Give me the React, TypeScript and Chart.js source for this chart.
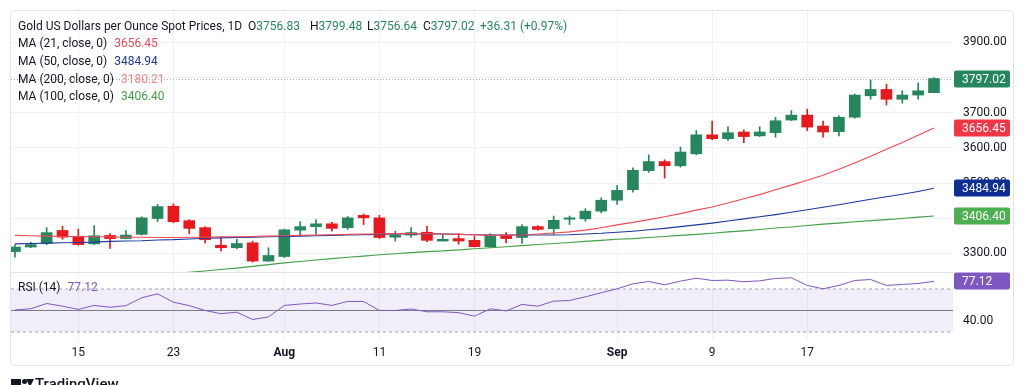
import React, { useEffect, useRef } from "react";
import { Chart, registerables } from "chart.js";
Chart.register(...registerables);

// ---------- data ----------
const dates = [
  "Jul 9", "Jul 10", "Jul 11", "Jul 14", "Jul 15", "Jul 16", "Jul 17", "Jul 18", "Jul 21", "Jul 22",
  "Jul 23", "Jul 24", "Jul 25", "Jul 28", "Jul 29", "Jul 30", "Jul 31", "Aug 1", "Aug 4", "Aug 5",
  "Aug 6", "Aug 7", "Aug 8", "Aug 11", "Aug 12", "Aug 13", "Aug 14", "Aug 15", "Aug 18", "Aug 19",
  "Aug 20", "Aug 21", "Aug 22", "Aug 25", "Aug 26", "Aug 27", "Aug 28", "Aug 29", "Sep 1", "Sep 2",
  "Sep 3", "Sep 4", "Sep 5", "Sep 8", "Sep 9", "Sep 10", "Sep 11", "Sep 12", "Sep 15", "Sep 16",
  "Sep 17", "Sep 18", "Sep 19", "Sep 22", "Sep 23", "Sep 24", "Sep 25", "Sep 26", "Sep 29",
];

const opens = [
  3305, 3318, 3328, 3365, 3347, 3327, 3351, 3342, 3354, 3399,
  3434, 3393, 3373, 3323, 3316, 3330, 3278, 3291, 3366, 3376,
  3384, 3373, 3408, 3401, 3346, 3352, 3360, 3335, 3342, 3337,
  3319, 3352, 3345, 3376, 3370, 3397, 3398, 3420, 3451, 3481,
  3535, 3561, 3549, 3583, 3637, 3626, 3645, 3634, 3643, 3679,
  3693, 3662, 3646, 3687, 3748, 3766, 3738, 3750, 3756.83,
];
const highs = [
  3325, 3332, 3373, 3377, 3369, 3379, 3356, 3365, 3404, 3439,
  3441, 3396, 3376, 3346, 3340, 3335, 3316, 3369, 3390, 3396,
  3388, 3405, 3412, 3408, 3363, 3373, 3377, 3352, 3356, 3349,
  3356, 3359, 3382, 3379, 3406, 3406, 3427, 3458, 3493, 3543,
  3580, 3566, 3602, 3649, 3676, 3660, 3651, 3660, 3687, 3706,
  3710, 3676, 3691, 3753, 3793, 3781, 3762, 3785, 3799.48,
];
const lows = [
  3289, 3316, 3325, 3340, 3323, 3325, 3314, 3341, 3352, 3390,
  3387, 3356, 3330, 3307, 3313, 3275, 3277, 3288, 3349, 3354,
  3363, 3368, 3382, 3342, 3335, 3345, 3333, 3335, 3326, 3318,
  3316, 3330, 3328, 3366, 3354, 3382, 3391, 3415, 3439, 3474,
  3530, 3514, 3545, 3580, 3623, 3621, 3615, 3632, 3630, 3677,
  3649, 3630, 3634, 3684, 3738, 3722, 3727, 3738, 3756.64,
];
const closes = [
  3318, 3325, 3359, 3346, 3325, 3350, 3342, 3352, 3401, 3433,
  3390, 3371, 3339, 3316, 3328, 3278, 3294, 3367, 3376, 3384,
  3371, 3401, 3401, 3345, 3352, 3359, 3337, 3340, 3335, 3319,
  3352, 3342, 3376, 3368, 3394, 3401, 3420, 3451, 3479, 3536,
  3561, 3549, 3588, 3637, 3626, 3643, 3632, 3645, 3677, 3693,
  3659, 3645, 3687, 3750, 3766, 3738, 3750, 3762, 3797.02,
];

const ma21 = [
  3351, 3350, 3349, 3348, 3348, 3347, 3347, 3346, 3346, 3345,
  3345, 3346, 3346, 3347, 3347, 3348, 3349, 3350, 3351, 3352,
  3353, 3354, 3355, 3355, 3356, 3356, 3356, 3355, 3354, 3353,
  3351, 3351, 3352, 3355, 3358, 3361, 3366, 3373, 3381, 3388,
  3396, 3404, 3413, 3423, 3432, 3443, 3455, 3467, 3481, 3494,
  3508, 3522, 3539, 3557, 3576, 3596, 3615, 3636, 3656.45,
];
const ma50 = [
  3327, 3328, 3329, 3330, 3331, 3332, 3334, 3335, 3336, 3338,
  3339, 3341, 3343, 3344, 3345, 3346, 3347, 3348, 3349, 3350,
  3351, 3352, 3353, 3354, 3355, 3355, 3356, 3355, 3354, 3353,
  3352, 3352, 3352, 3352, 3352, 3353, 3355, 3357, 3360, 3363,
  3367, 3371, 3376, 3381, 3386, 3392, 3398, 3404, 3410, 3417,
  3424, 3431, 3438, 3446, 3454, 3461, 3468, 3476, 3484.94,
];
const ma100 = [
  3204, 3208, 3212, 3216, 3220, 3224, 3228, 3232, 3236, 3240,
  3243, 3246, 3250, 3254, 3258, 3263, 3268, 3273, 3277, 3281,
  3285, 3289, 3292, 3296, 3299, 3302, 3305, 3307, 3310, 3313,
  3316, 3319, 3322, 3325, 3328, 3331, 3334, 3337, 3340, 3342,
  3345, 3348, 3351, 3354, 3357, 3361, 3364, 3368, 3372, 3375,
  3379, 3383, 3386, 3390, 3393, 3396, 3399, 3403, 3406.4,
];
const ma200Last = 3180.21;

const rsi = [
  50.5, 51.6, 56.5, 54, 51, 54.7, 53, 54.5, 61.8, 65.5,
  57.7, 54.5, 50, 47, 48.4, 41.6, 44, 54.7, 56, 57,
  54.7, 58.4, 58.4, 50, 50, 51.4, 48.8, 48.8, 48, 44.7,
  51.6, 49.6, 55.6, 54, 58.7, 59.3, 62.7, 66.5, 70.2, 74.8,
  77, 73.9, 77.3, 80, 77.9, 78.2, 76.7, 77.6, 79.8, 80.4,
  73.3, 70.2, 73.3, 77.9, 78.8, 73.3, 74.2, 75.1, 77.12,
];

const xTickIndex = [4, 10, 17, 23, 29, 38, 44, 50];
const xTickLabels = ["15", "23", "Aug", "11", "19", "Sep", "9", "17"];
const priceTicks = [3300, 3400, 3500, 3600, 3700, 3800, 3900];
const rsiTicks = [40];
const rsiUpper = 70;
const rsiMiddle = 50;
const rsiLower = 30;

// ---------- styling ----------
const FONT = "Roboto, 'Noto Sans', sans-serif";
const TEXT = "#131722";
const UP = "#26875f";
const DOWN = "#e8191c";
const C_MA21 = "#ef4a55";
const C_MA50 = "#1c3a9c";
const C_MA100 = "#43a047";
const C_MA200 = "#f4838a";
const C_RSI = "#7e57c2";
const GRID = "#f0f2f5";
const X_MIN = -0.25;
const X_MAX = 59.2;
const AXIS_W = 60;

function drawTags(chart: any, tags: { value: number; bg: string }[]) {
  const { ctx, chartArea, scales } = chart;
  const y = scales.y;
  ctx.save();
  ctx.font = `12px ${FONT}`;
  ctx.textBaseline = "middle";
  ctx.textAlign = "left";
  for (const t of tags) {
    const py = Math.round(y.getPixelForValue(t.value));
    const x = chartArea.right + 1;
    const w = 56;
    const h = 17;
    ctx.fillStyle = t.bg;
    ctx.beginPath();
    (ctx as any).roundRect(x, py - h / 2, w, h, 2);
    ctx.fill();
    ctx.fillStyle = "#ffffff";
    ctx.fillText(t.value.toFixed(2), x + 8, py + 0.5);
  }
  ctx.restore();
}

function noPad(s: any) {
  s.paddingTop = 0;
  s.paddingBottom = 0;
  s.paddingLeft = 0;
  s.paddingRight = 0;
}

function xAxis(showTicks: boolean) {
  return {
    type: "linear",
    min: X_MIN,
    max: X_MAX,
    offset: false,
    afterBuildTicks: (s: any) => {
      s.ticks = xTickIndex.map((v) => ({ value: v }));
    },
    afterFit: (s: any) => {
      s.height = showTicks ? 24 : 0;
      noPad(s);
    },
    grid: { color: GRID, drawTicks: false, offset: false },
    border: { display: false },
    ticks: {
      display: showTicks,
      padding: 5,
      color: TEXT,
      maxRotation: 0,
      autoSkip: false,
      font: (c: any) => ({
        family: FONT,
        size: 12,
        weight: xTickLabels[c.index] && xTickLabels[c.index].length === 3 ? "bold" : "normal",
      }),
      callback: (_v: any, i: number) => xTickLabels[i],
    },
  };
}

export default function App() {
  const mainRef = useRef<HTMLCanvasElement>(null);
  const rsiRef = useRef<HTMLCanvasElement>(null);

  useEffect(() => {
    const colors = closes.map((c, i) => (c >= opens[i] ? UP : DOWN));
    const last = closes.length - 1;

    const main = new Chart(mainRef.current as HTMLCanvasElement, {
      type: "bar",
      data: {
        datasets: [
          {
            type: "line",
            label: "MA 21",
            data: ma21.map((v, i) => ({ x: i, y: v })),
            borderColor: C_MA21,
            borderWidth: 1.1,
            pointRadius: 0,
            order: 0,
          } as any,
          {
            type: "line",
            label: "MA 50",
            data: ma50.map((v, i) => ({ x: i, y: v })),
            borderColor: C_MA50,
            borderWidth: 1.1,
            pointRadius: 0,
            order: 0,
          },
          {
            type: "line",
            label: "MA 100",
            data: ma100.map((v, i) => ({ x: i, y: v })),
            borderColor: C_MA100,
            borderWidth: 1.1,
            pointRadius: 0,
            order: 0,
          },
          {
            type: "bar",
            label: "body",
            data: opens.map((o, i) => ({ x: i, y: [o, closes[i]] })),
            backgroundColor: colors,
            barThickness: 11,
            grouped: false,
            minBarLength: 1,
            order: 1,
          },
          {
            type: "bar",
            label: "wick",
            data: lows.map((l, i) => ({ x: i, y: [l, highs[i]] })),
            backgroundColor: colors,
            barThickness: 1,
            grouped: false,
            order: 2,
          },
        ],
      },
      options: {
        animation: false,
        responsive: true,
        maintainAspectRatio: false,
        events: [],
        layout: { padding: 0, autoPadding: false },
        plugins: { legend: { display: false }, tooltip: { enabled: false } },
        scales: {
          x: xAxis(false) as any,
          y: {
            type: "linear",
            position: "right",
            min: 3247,
            max: 3989,
            afterBuildTicks: (s: any) => {
              s.ticks = priceTicks.map((v) => ({ value: v }));
            },
            afterFit: (s: any) => {
              s.width = AXIS_W;
              noPad(s);
            },
            grid: { color: GRID, drawTicks: false },
            border: { display: false },
            ticks: {
              padding: 10,
              color: TEXT,
              font: { family: FONT, size: 12 },
              callback: (v: any) => Number(v).toFixed(2),
            },
          },
        },
      },
      plugins: [
        {
          id: "priceLine",
          beforeDatasetsDraw(chart: any) {
            const { ctx, chartArea, scales } = chart;
            const py = Math.round(scales.y.getPixelForValue(closes[last])) + 0.5;
            ctx.save();
            ctx.strokeStyle = "#9fb0a8";
            ctx.lineWidth = 1;
            ctx.setLineDash([1, 2]);
            ctx.beginPath();
            ctx.moveTo(chartArea.left, py);
            ctx.lineTo(chartArea.right, py);
            ctx.stroke();
            ctx.restore();
          },
        },
        {
          id: "tags",
          afterDraw(chart: any) {
            drawTags(chart, [
              { value: closes[last], bg: UP },
              { value: ma21[last], bg: "#f23645" },
              { value: ma50[last], bg: "#0d2f95" },
              { value: ma100[last], bg: "#4caf50" },
            ]);
          },
        },
      ],
    } as any);

    const rsiChart = new Chart(rsiRef.current as HTMLCanvasElement, {
      type: "line",
      data: {
        datasets: [
          {
            label: "RSI",
            data: rsi.map((v, i) => ({ x: i, y: v })),
            borderColor: C_RSI,
            borderWidth: 1,
            pointRadius: 0,
            order: 0,
          },
          {
            label: "upper",
            data: [
              { x: X_MIN, y: rsiUpper },
              { x: X_MAX, y: rsiUpper },
            ],
            borderColor: "#a3a6af",
            borderDash: [3, 3],
            borderWidth: 1,
            pointRadius: 0,
            fill: "+1",
            backgroundColor: "rgba(126,87,194,0.1)",
            order: 2,
          },
          {
            label: "lower",
            data: [
              { x: X_MIN, y: rsiLower },
              { x: X_MAX, y: rsiLower },
            ],
            borderColor: "#a3a6af",
            borderDash: [3, 3],
            borderWidth: 1,
            pointRadius: 0,
            fill: false,
            order: 2,
          },
          {
            label: "middle",
            data: [
              { x: X_MIN, y: rsiMiddle },
              { x: X_MAX, y: rsiMiddle },
            ],
            borderColor: "#787b86",
            borderWidth: 1,
            pointRadius: 0,
            fill: false,
            order: 1,
          },
        ],
      },
      options: {
        animation: false,
        responsive: true,
        maintainAspectRatio: false,
        events: [],
        layout: { padding: 0, autoPadding: false },
        plugins: { legend: { display: false }, tooltip: { enabled: false } },
        scales: {
          x: xAxis(true) as any,
          y: {
            type: "linear",
            position: "right",
            min: 21.6,
            max: 85.8,
            afterBuildTicks: (s: any) => {
              s.ticks = rsiTicks.map((v) => ({ value: v }));
            },
            afterFit: (s: any) => {
              s.width = AXIS_W;
              noPad(s);
            },
            grid: { display: false, drawTicks: false },
            border: { display: false },
            ticks: {
              padding: 10,
              color: TEXT,
              font: { family: FONT, size: 12 },
              callback: (v: any) => Number(v).toFixed(2),
            },
          },
        },
      },
      plugins: [
        {
          id: "rsiTag",
          afterDraw(chart: any) {
            drawTags(chart, [{ value: rsi[rsi.length - 1], bg: C_RSI }]);
          },
        },
      ],
    } as any);

    return () => {
      main.destroy();
      rsiChart.destroy();
    };
  }, []);

  const lastO = opens[opens.length - 1];
  const lastH = highs[highs.length - 1];
  const lastL = lows[lows.length - 1];
  const lastC = closes[closes.length - 1];
  const prevC = 3760.71;
  const chg = lastC - prevC;
  const pct = (chg / prevC) * 100;

  const txt: React.CSSProperties = {
    position: "absolute",
    fontFamily: FONT,
    fontSize: 12,
    lineHeight: "18px",
    color: TEXT,
    whiteSpace: "nowrap",
  };
  const maRow = (top: number, label: string, value: number, color: string) => (
    <div style={{ ...txt, left: 7, top }}>
      {label}
      <span style={{ color, marginLeft: 7 }}>{value.toFixed(2)}</span>
    </div>
  );

  return (
    <div style={{ position: "fixed", left: 0, top: 0, width: 1024, height: 385, background: "#fff", overflow: "hidden" }}>
      <div
        style={{
          position: "absolute",
          left: 10,
          top: 10,
          width: 1004,
          height: 356,
          border: "1px solid #e0e3eb",
          borderRadius: 6,
          boxSizing: "border-box",
        }}
      >
        <div style={{ position: "absolute", left: 0, top: 0, width: 1002, height: 261 }}>
          <canvas ref={mainRef} />
        </div>
        <div style={{ position: "absolute", left: 0, top: 261, width: 942, height: 1, background: "#e0e3eb" }} />
        <div style={{ position: "absolute", left: 0, top: 261, width: 1002, height: 93 }}>
          <canvas ref={rsiRef} />
        </div>

        <div style={{ ...txt, left: 7, top: 5.5 }}>Gold US Dollars per Ounce Spot Prices, 1D</div>
        <div style={{ ...txt, left: 237, top: 5.5 }}>
          O<span style={{ color: UP }}>{lastO.toFixed(2)}</span>
        </div>
        <div style={{ ...txt, left: 299, top: 5.5 }}>
          H<span style={{ color: UP }}>{lastH.toFixed(2)}</span>
        </div>
        <div style={{ ...txt, left: 356, top: 5.5 }}>
          L<span style={{ color: UP }}>{lastL.toFixed(2)}</span>
        </div>
        <div style={{ ...txt, left: 412, top: 5.5 }}>
          C<span style={{ color: UP }}>{lastC.toFixed(2)}</span>
        </div>
        <div style={{ ...txt, left: 469, top: 5.5, color: UP }}>
          {"+" + chg.toFixed(2) + " (+" + pct.toFixed(2) + "%)"}
        </div>
        {maRow(23.3, "MA (21, close, 0)", ma21[ma21.length - 1], C_MA21)}
        {maRow(41, "MA (50, close, 0)", ma50[ma50.length - 1], C_MA50)}
        {maRow(58.7, "MA (200, close, 0)", ma200Last, C_MA200)}
        {maRow(76.4, "MA (100, close, 0)", ma100[ma100.length - 1], C_MA100)}

        <div style={{ ...txt, left: 7, top: 267 }}>
          RSI (14)
          <span style={{ color: C_RSI, marginLeft: 7 }}>{rsi[rsi.length - 1].toFixed(2)}</span>
        </div>
      </div>

      <div style={{ position: "absolute", left: 11, top: 379, width: 10, height: 8, background: "#131722" }} />
      <div style={{ position: "absolute", left: 22, top: 379, width: 5, height: 5, borderRadius: 3, background: "#131722" }} />
      <div
        style={{
          position: "absolute",
          left: 26,
          top: 379,
          width: 0,
          height: 0,
          borderLeft: "4px solid transparent",
          borderRight: "4px solid transparent",
          borderTop: "8px solid #131722",
        }}
      />
      <div
        style={{
          position: "absolute",
          left: 35,
          top: 377,
          fontFamily: FONT,
          fontSize: 15,
          lineHeight: "15px",
          fontWeight: 500,
          color: TEXT,
        }}
      >
        TradingView
      </div>
    </div>
  );
}
